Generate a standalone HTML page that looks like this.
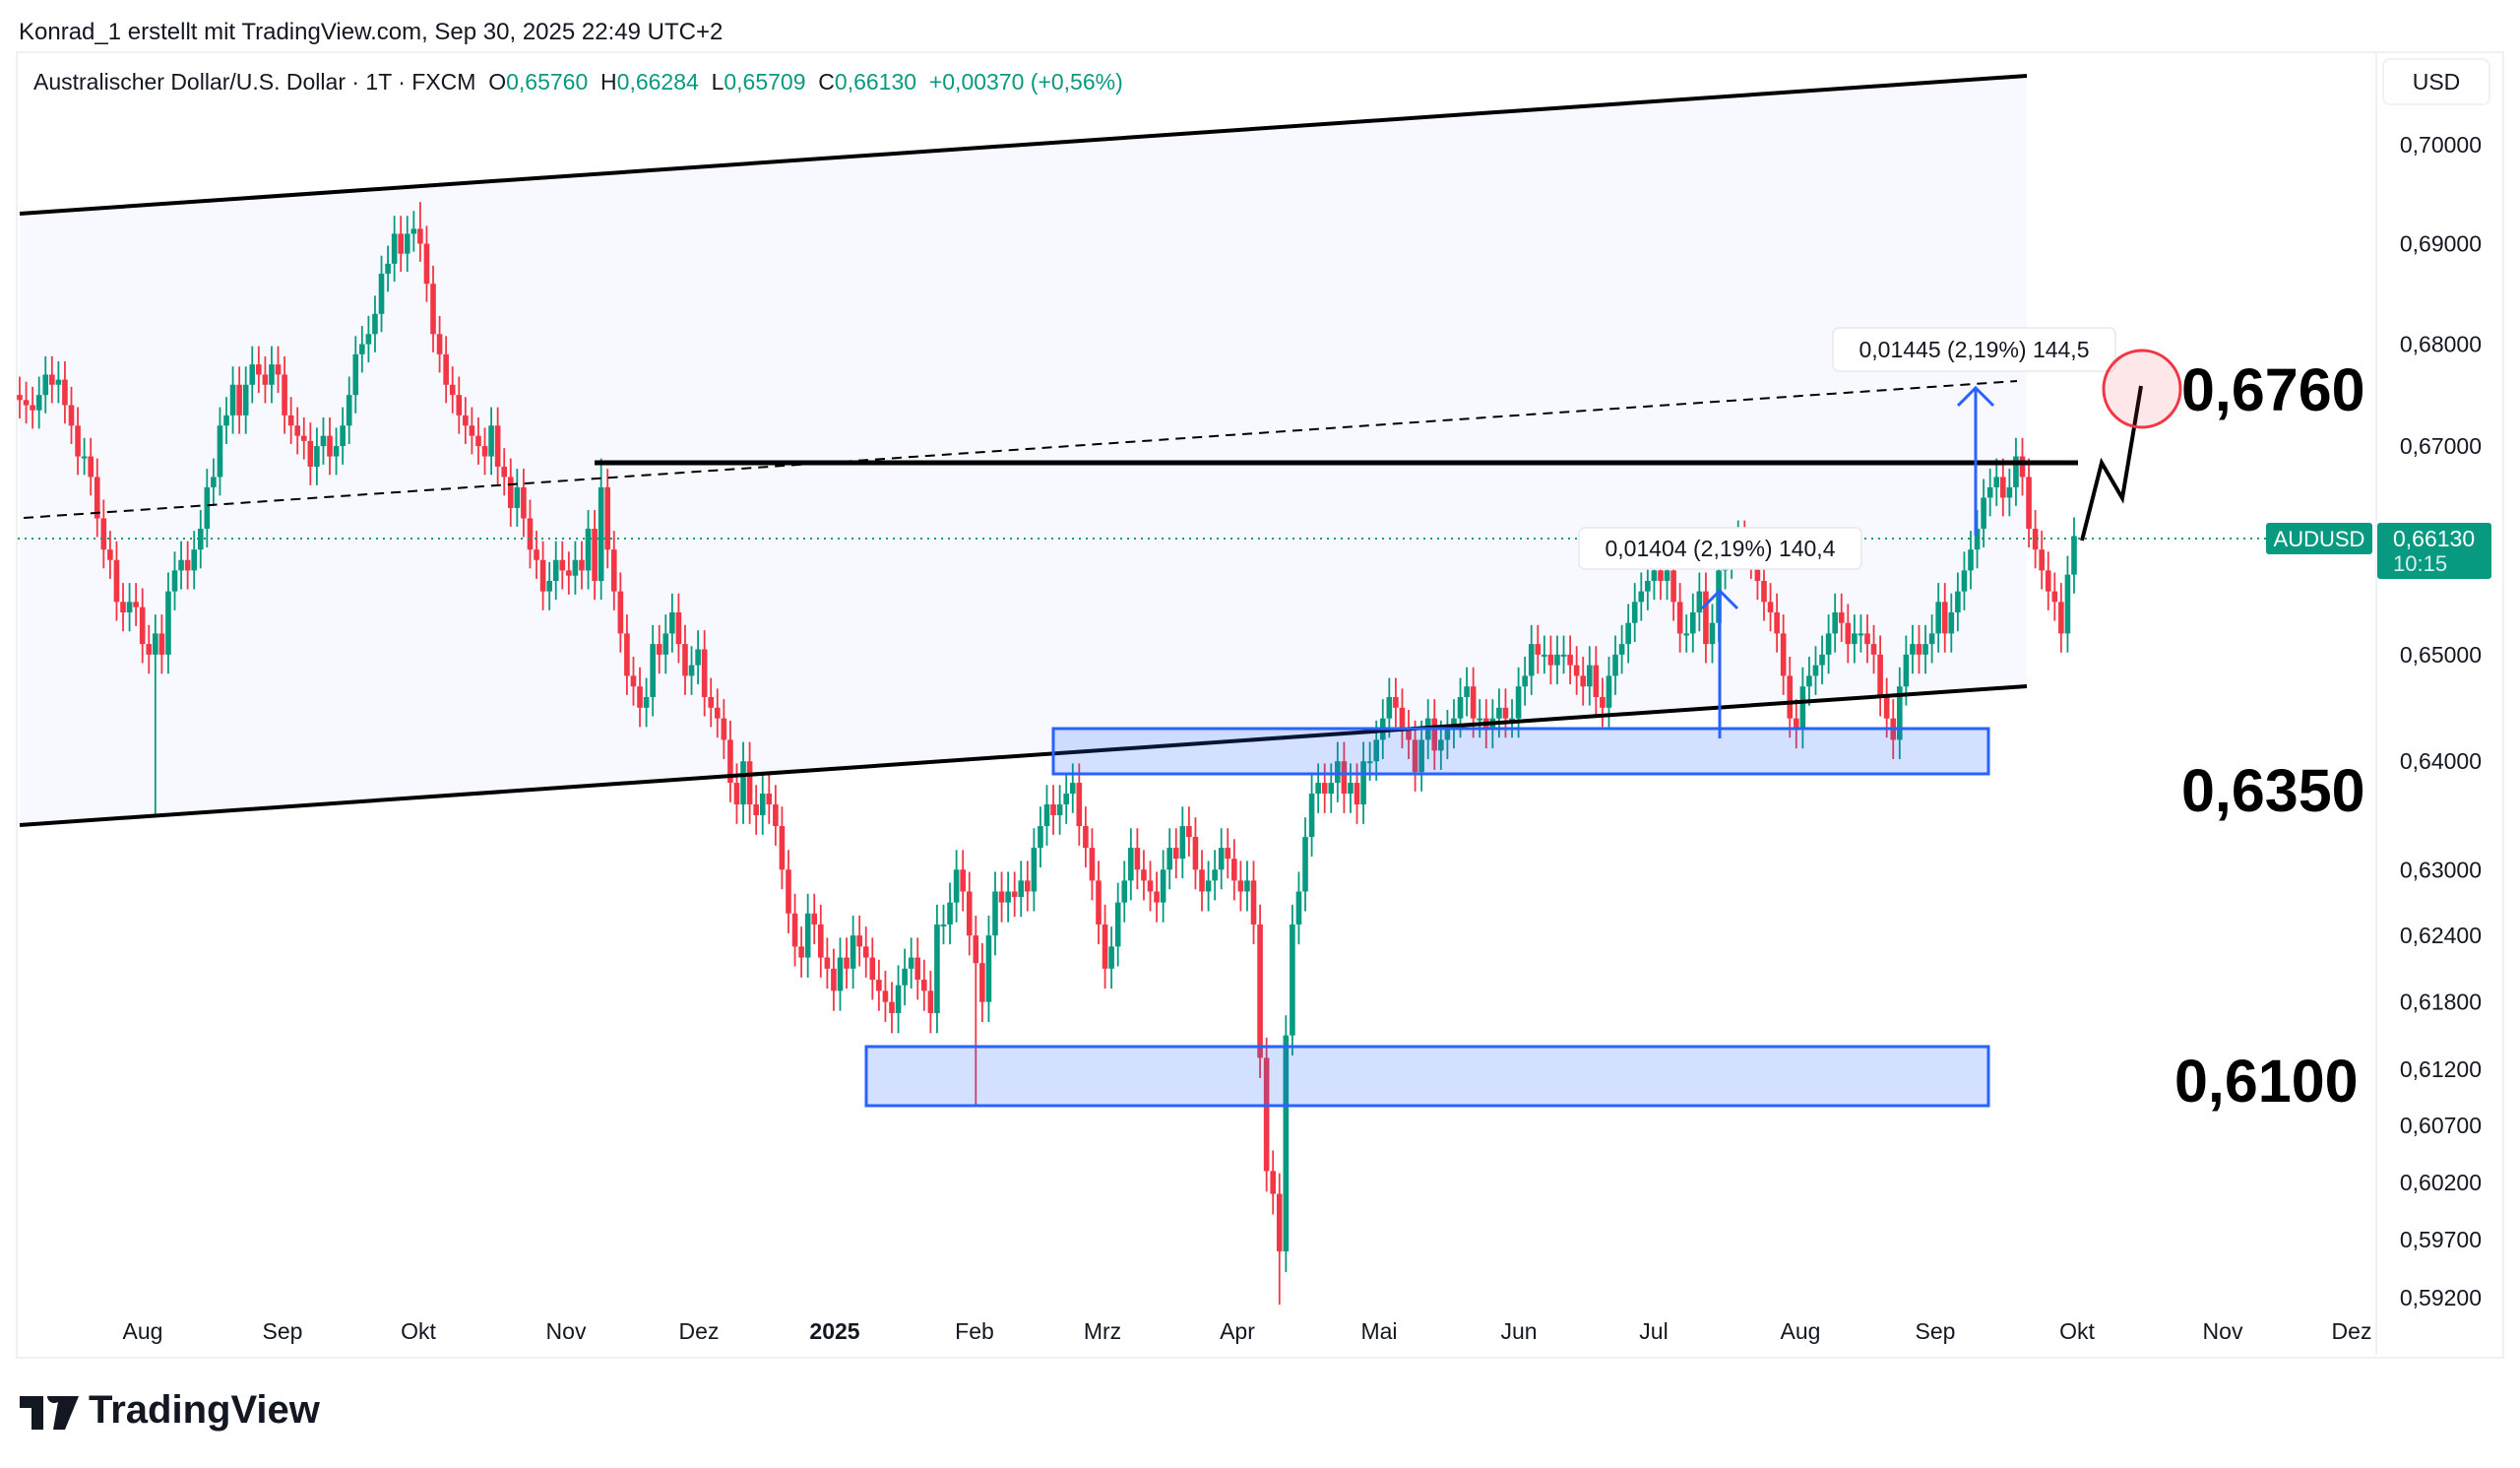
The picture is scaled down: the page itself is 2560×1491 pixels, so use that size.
<!DOCTYPE html>
<html><head><meta charset="utf-8">
<style>
html,body{margin:0;padding:0;background:#fff;}
body{width:2560px;height:1491px;position:relative;overflow:hidden;font-family:"Liberation Sans",sans-serif;}
.t{position:absolute;white-space:nowrap;}
</style></head>
<body>
<div class="t" style="left:19px;top:19px;font-size:24px;color:#131722;">Konrad_1 erstellt mit TradingView.com, Sep 30, 2025 22:49 UTC+2</div>
<div style="position:absolute;left:16px;top:52px;width:2524px;height:1324px;border:2px solid #f0f1f3;"></div>
<div class="t" style="left:34px;top:70px;font-size:23px;color:#131722;">Australischer Dollar/U.S. Dollar · 1T · FXCM &nbsp;O<span style="color:#089981">0,65760</span> &nbsp;H<span style="color:#089981">0,66284</span> &nbsp;L<span style="color:#089981">0,65709</span> &nbsp;C<span style="color:#089981">0,66130</span> &nbsp;<span style="color:#089981">+0,00370 (+0,56%)</span></div>
<div class="t" style="left:2420px;top:59px;width:106px;height:44px;border:2px solid #f0f1f3;border-radius:8px;font-size:23px;line-height:44px;text-align:center;color:#131722;">USD</div>
<svg id="chart" width="2560" height="1491" style="position:absolute;left:0;top:0;" xmlns="http://www.w3.org/2000/svg"></svg>
<svg style="position:absolute;left:20px;top:1418px;" width="62" height="34" viewBox="0 0 62 34"><path d="M0 0h24v34h-12v-22h-12z M28 0a7 7 0 1 1 0 .1z" fill="#131722"/><path d="M40 0h20l-14 34h-12z" fill="#131722"/></svg>
<div class="t" style="left:90px;top:1410px;font-size:40px;font-weight:bold;color:#131722;">TradingView</div>
<script>
const closes = [
0.6745,0.6740,0.6735,0.6750,0.6770,0.6760,0.6765,0.6740,0.6720,0.6690,0.6690,0.6670,0.6630,0.6600,0.6590,0.6550,0.6540,0.6550,0.6545,
0.6510,0.6500,0.6520,0.6500,0.6560,0.6580,0.6590,0.6580,0.6600,0.6620,0.6660,0.6670,0.6720,0.6730,0.6760,0.6730,0.6760,0.6780,0.6770,0.6760,0.6780,0.6770,
0.6730,0.6720,0.6710,0.6705,0.6680,0.6700,0.6710,0.6690,0.6700,0.6720,0.6750,0.6790,0.6800,0.6810,0.6830,0.6870,0.6880,0.6910,0.6890,0.6910,0.6915,
0.6900,0.6860,0.6810,0.6790,0.6760,0.6750,0.6730,0.6720,0.6710,0.6700,0.6690,0.6720,0.6680,0.6670,0.6640,0.6660,0.6630,0.6600,0.6590,0.6560,0.6570,0.6590,0.6580,
0.6575,0.6590,0.6580,0.6620,0.6570,0.6660,0.6600,0.6560,0.6520,0.6480,0.6470,0.6450,0.6460,0.6510,0.6500,0.6520,0.6540,0.6510,0.6480,0.6490,0.6505,
0.6460,0.6450,0.6440,0.6420,0.6380,0.6360,0.6400,0.6360,0.6350,0.6370,0.6360,0.6340,0.6300,0.6260,0.6230,0.6220,0.6260,0.6250,0.6220,0.6210,0.6190,
0.6220,0.6210,0.6240,0.6230,0.6220,0.6200,0.6190,0.6180,0.6170,0.6195,0.6210,0.6220,0.6200,0.6190,0.6170,0.6250,0.6250,0.6270,0.6300,0.6280,0.6240,0.6215,
0.6180,0.6240,0.6280,0.6270,0.6280,0.6275,0.6290,0.6280,0.6320,0.6340,0.6360,0.6350,0.6360,0.6370,0.6380,0.6340,0.6320,0.6290,0.6250,0.6210,
0.6230,0.6270,0.6290,0.6320,0.6300,0.6290,0.6280,0.6270,0.6300,0.6320,0.6310,0.6340,0.6330,0.6300,0.6280,0.6290,0.6300,0.6320,0.6310,0.6290,0.6280,
0.6290,0.6250,0.6130,0.6030,0.6010,0.5960,0.6150,0.6250,0.6280,0.6330,0.6370,0.6380,0.6370,0.6380,0.6400,0.6370,0.6380,0.6360,0.6400,0.6400,0.6420,
0.6440,0.6460,0.6450,0.6430,0.6420,0.6390,0.6420,0.6440,0.6410,0.6420,0.6430,0.6440,0.6460,0.6470,0.6440,0.6440,0.6430,0.6440,0.6450,0.6440,0.6440,
0.6470,0.6480,0.6510,0.6500,0.6500,0.6490,0.6500,0.6500,0.6490,0.6480,0.6470,0.6490,0.6460,0.6450,0.6480,0.6500,0.6510,0.6530,0.6550,0.6560,0.6570,
0.6580,0.6570,0.6580,0.6550,0.6520,0.6520,0.6540,0.6560,0.6510,0.6530,0.6580,0.6590,0.6600,0.6610,0.6600,0.6590,0.6570,0.6550,0.6540,0.6520,0.6480,0.6440,0.6430,
0.6470,0.6480,0.6490,0.6500,0.6520,0.6540,0.6530,0.6510,0.6520,0.6520,0.6510,0.6500,0.6460,0.6440,0.6420,0.6470,0.6500,0.6510,0.6500,0.6510,0.6520,
0.6550,0.6520,0.6540,0.6560,0.6580,0.6600,0.6620,0.6650,0.6660,0.6670,0.6650,0.6660,0.6690,0.6670,0.6620,0.6600,0.6580,0.6560,0.6550,0.6520,0.6576,0.6613
];
const spikeIdx = [21, 148, 195, 90, 62];
const spikeLow = [0.6348, 0.6088, 0.5914, null, null];
const spikeHigh = [null, null, null, 0.6688, 0.6942];
const tickLabels = ["0,70000","0,69000","0,68000","0,67000","0,65000","0,64000","0,63000","0,62400","0,61800","0,61200","0,60700","0,60200","0,59700","0,59200"];
const tickValues = [0.70,0.69,0.68,0.67,0.65,0.64,0.63,0.624,0.618,0.612,0.607,0.602,0.597,0.592];
const monthLabels = ["Aug","Sep","Okt","Nov","Dez","2025","Feb","Mrz","Apr","Mai","Jun","Jul","Aug","Sep","Okt","Nov","Dez"];
const monthX = [145,287,425,575,710,848,990,1120,1257,1401,1543,1680,1829,1966,2110,2258,2389];

const NS="http://www.w3.org/2000/svg";
const svg=document.getElementById('chart');
const x0=20, step=(2107-20)/(closes.length-1);
function xs(i){return x0+i*step;}
function ys(p){return 147+(Math.log(0.70)-Math.log(p))*6988;}
function mk(tag,attrs,parent){const e=document.createElementNS(NS,tag);for(const k in attrs)e.setAttribute(k,attrs[k]);(parent||svg).appendChild(e);return e;}

let ch=mk('polygon',{points:"20,217 2059,77 2059,697 20,838",fill:"#f7f9fe"});



const g=mk('g',{});


for(let i=0;i<closes.length;i++){
  const c=closes[i], o=i>0?closes[i-1]:c+0.0005;
  let hi=Math.max(o,c)+0.0018, lo=Math.min(o,c)-0.0018;
  const k=spikeIdx.indexOf(i);
  if(k>=0){ if(spikeLow[k]!==null) lo=spikeLow[k]; if(spikeHigh[k]!==null) hi=spikeHigh[k]; }
  const col=c>=o?'#089981':'#f23645';
  const x=xs(i);
  const w=mk('line',{x1:x,x2:x,y1:ys(hi),y2:ys(lo),stroke:col,'stroke-width':1.8},g);
  
  
  const yt=ys(Math.max(o,c)), yb=ys(Math.min(o,c));
  const b=mk('rect',{x:x-2.8,y:yt,width:5.6,height:Math.max(2,yb-yt),fill:col},g);
  
  
}

let l1=mk('line',{x1:20,y1:217,x2:2059,y2:77,stroke:'#000','stroke-width':4});


let l2=mk('line',{x1:20,y1:838,x2:2059,y2:697,stroke:'#000','stroke-width':4});


let l3=mk('line',{x1:24,y1:526,x2:2049,y2:387,stroke:'#000','stroke-width':2,'stroke-dasharray':'10,7'});


let l4=mk('line',{x1:604,y1:470,x2:2111,y2:470,stroke:'#000','stroke-width':5});



let z1=mk('rect',{x:1070,y:740,width:950,height:46,fill:'rgba(41,98,255,0.2)',stroke:'#2962ff','stroke-width':3});


let z2=mk('rect',{x:880,y:1063,width:1140,height:60,fill:'rgba(41,98,255,0.2)',stroke:'#2962ff','stroke-width':3});



let cp=mk('line',{x1:18,y1:547,x2:2302,y2:547,stroke:'#089981','stroke-width':2,'stroke-dasharray':'2,5'});



function arrow(x,y1,y2,name){
  const a=mk('g',{stroke:'#2962ff','stroke-width':3,fill:'none'});
  
  
  mk('line',{x1:x,y1:y1,x2:x,y2:y2},a);
  mk('polyline',{points:`${x-18},${y2+18} ${x},${y2} ${x+18},${y2+18}`},a);
}
arrow(1747,750,600,'measure-arrow-1');
arrow(2007,544,394,'measure-arrow-2');
function lbl(x,y,w,h,txt,name){
  const gg=mk('g',{});
  
  
  mk('rect',{x:x,y:y,width:w,height:h,rx:6,fill:'#fff',stroke:'#e6e8ee','stroke-width':1.5},gg);
  const t=mk('text',{x:x+w/2,y:y+h/2+8,'text-anchor':'middle','font-size':23,fill:'#131722','font-family':'Liberation Sans, sans-serif'},gg);
  t.textContent=txt;
}
lbl(1604,536,287,42,'0,01404 (2,19%) 140,4','measure-label-1');
lbl(1862,333,287,44,'0,01445 (2,19%) 144,5','measure-label-2');

let zz=mk('polyline',{points:'2115,549 2135,470 2156,506 2175,392',fill:'none',stroke:'#000','stroke-width':4});


let cir=mk('circle',{cx:2176,cy:395,r:39,fill:'rgba(242,54,69,0.12)',stroke:'#f23645','stroke-width':3});



function big(x,y,txt,name){
  const t=mk('text',{x:x,y:y,'font-size':61,'font-weight':'bold',fill:'#000','font-family':'Liberation Sans, sans-serif'});
  
  
  t.textContent=txt;
}
big(2216,417,'0,6760','target-label-0676');
big(2216,824,'0,6350','level-label-0635');
big(2209,1119,'0,6100','level-label-0610');

let ax=mk('line',{x1:2414,y1:52,x2:2414,y2:1376,stroke:'#f0f1f3','stroke-width':2});


for(let i=0;i<tickValues.length;i++){
  const t=mk('text',{x:2521,y:ys(tickValues[i])+8,'text-anchor':'end','font-size':23,fill:'#131722','font-family':'Liberation Sans, sans-serif'});
  
  
  t.textContent=tickLabels[i];
}
let tg=mk('g',{});


mk('rect',{x:2302,y:531,width:108,height:32,rx:3,fill:'#089981'},tg);
let tt=mk('text',{x:2356,y:555,'text-anchor':'middle','font-size':22,fill:'#fff','font-family':'Liberation Sans, sans-serif'},tg);
tt.textContent='AUDUSD';
mk('rect',{x:2415,y:531,width:116,height:57,rx:3,fill:'#089981'},tg);
let t1=mk('text',{x:2431,y:555,'font-size':23,fill:'#fff','font-family':'Liberation Sans, sans-serif'},tg);
t1.textContent='0,66130';
let t2=mk('text',{x:2431,y:580,'font-size':22,fill:'#d8f0ea','font-family':'Liberation Sans, sans-serif'},tg);
t2.textContent='10:15';

for(let i=0;i<monthLabels.length;i++){
  const t=mk('text',{x:monthX[i],y:1360,'text-anchor':'middle','font-size':23,fill:'#131722','font-weight':monthLabels[i]==='2025'?'bold':'normal','font-family':'Liberation Sans, sans-serif'});
  
  
  t.textContent=monthLabels[i];
}
</script>
</body></html>
